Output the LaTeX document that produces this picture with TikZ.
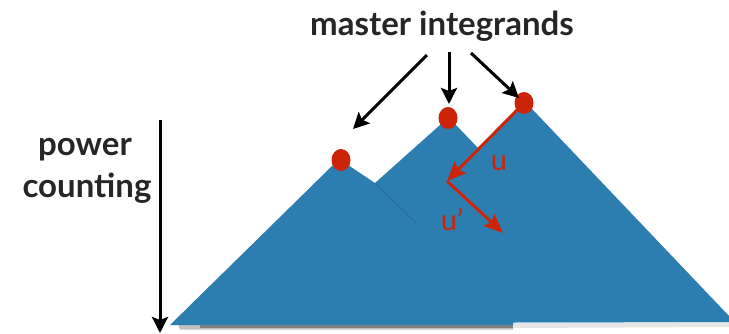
\documentclass[tikz,border=0pt]{standalone}
\usepackage{fontspec}
\setmainfont{Lato}
\usetikzlibrary{arrows.meta,shapes.geometric}
\definecolor{mtblue}{RGB}{44,126,177}
\definecolor{mtred}{RGB}{204,36,8}
\tikzset{
  lbl/.style={font=\fontsize{33}{40}\selectfont\bfseries, text=black!85, inner sep=0pt, anchor=base},
  redlbl/.style={font=\fontsize{29}{34}\selectfont, text=mtred, inner sep=0pt, anchor=base},
  blk/.style={draw=black, line width=3pt, -{Stealth[length=16pt,width=16pt,inset=3pt]}},
  redarr/.style={draw=mtred, line width=3pt, -{Stealth[length=19pt,width=16pt,inset=3pt]}},
  dot/.style={ellipse, fill=mtred, minimum width=19pt, minimum height=22pt, inner sep=0pt},
}
\begin{document}
\begin{tikzpicture}[x=1pt,y=-1pt]
\useasboundingbox (0,0) rectangle (729,333);
% shadow under base
\fill[black!25] (178,324) -- (513,324) -- (513,329.5) -- (180,329.5) -- cycle;
\fill[black!50] (200,325) -- (513,325) -- (513,327.5) -- (200,327.5) -- cycle;
\fill[black!10] (513,322) -- (729,321) -- (729,327) -- (513,328) -- cycle;
% mountains silhouette
\fill[mtblue] (170,325) -- (331,167) -- (337,161) -- (345,161) -- (351,167) -- (375,183)
  -- (440,125) -- (444,120) -- (452,120) -- (456,125) -- (478,148)
  -- (517,109) -- (521,104) -- (528,104) -- (533,110) -- (729,316) -- (729,322)
  -- (513,322.5) -- (513,325) -- cycle;
% faint edge of the front mountain
\draw[mtblue!70!black, line width=0.8pt, opacity=0.5] (375,183) -- (416,223);
% dots
\node[dot] (ld) at (341,160) {};
\node[dot] (md) at (448,118) {};
\node[dot] (rd) at (524,103) {};
% texts
\node[lbl] (mi) at (442,35) {master integrands};
\node[lbl] (pw) at (85,155) {power};
\node[lbl] (ct) at (87,197) {counting};
% arrow coordinates
\coordinate (s1) at (427,55);
\coordinate (e1) at (353,129);
\coordinate (s2) at (449,52);
\coordinate (e2) at (449,104);
\coordinate (s3) at (471,53);
\coordinate (e3) at (519,98);
\draw[blk] (s1) -- (e1);
\draw[blk] (s2) -- (e2);
\draw[blk] (s3) -- (e3);
% power counting arrow
\coordinate (pt) at (160,120);
\coordinate (pb) at (160,333);
\draw[blk] (pt) -- (pb);
% red arrows
\coordinate (k) at (447,181);
\coordinate (kk) at (503,233);
\draw[redarr] (rd.center) -- (k);
\draw[redarr] (k) -- (kk);
\node[redlbl] (u) at (499,170) {u};
\node[redlbl] (up) at (452,230) {u'};
\end{tikzpicture}
\end{document}
